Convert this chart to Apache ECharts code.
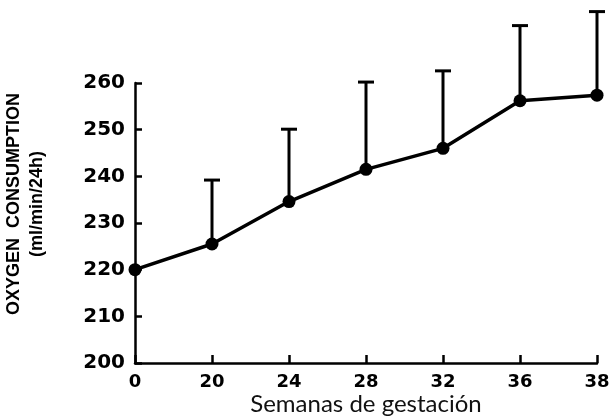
<!DOCTYPE html>
<html>
<head>
<meta charset="utf-8">
<script src="https://cdn.jsdelivr.net/npm/echarts@6/dist/echarts.min.js"></script>
<style>html,body{margin:0;padding:0;background:#fff;}#chart{width:612px;height:416px;}</style>
</head>
<body>
<div id="chart"></div>
<script>
const categories = ['0', '20', '24', '28', '32', '36', '38'];
const meanValues = [220, 225.5, 234.6, 241.5, 246.0, 256.2, 257.4];
const upperValues = [null, 239.2, 250.1, 260.2, 262.6, 272.3, 275.3];
const yAxisTitle = 'OXYGEN  CONSUMPTION\n(ml/min/24h)';
const xAxisTitle = 'Semanas de gestación';

const errorData = [];
categories.forEach(function (c, i) {
  if (upperValues[i] != null) errorData.push([i, meanValues[i], upperValues[i]]);
});

const chart = echarts.init(document.getElementById('chart'));
chart.setOption({
  animation: false,
  backgroundColor: '#fff',
  grid: { left: 135, right: 15, top: 83, bottom: 53, containLabel: false, outerBoundsMode: 'none' },
  xAxis: {
    type: 'category',
    data: categories,
    boundaryGap: false,
    name: xAxisTitle,
    nameLocation: 'middle',
    nameGap: 29,
    nameMoveOverlap: false,
    nameTextStyle: { fontFamily: 'Lato', fontSize: 24, color: '#111' },
    axisLine: { lineStyle: { color: '#000', width: 2.5 } },
    axisTick: { inside: true, length: 8, lineStyle: { color: '#000', width: 2.5 }, alignWithLabel: true },
    axisLabel: { fontFamily: 'DejaVu Sans', fontWeight: 'bold', fontSize: 18, color: '#000', margin: 10 },
    splitLine: { show: false }
  },
  yAxis: {
    type: 'value',
    min: 200, max: 260, interval: 10,
    axisLine: { show: true, lineStyle: { color: '#000', width: 2.5 } },
    axisTick: { show: true, inside: true, length: 7, lineStyle: { color: '#000', width: 2.5 } },
    axisLabel: { fontFamily: 'DejaVu Sans', fontWeight: 'bold', fontSize: 20, color: '#000', margin: 10 },
    splitLine: { show: false }
  },
  graphic: [{
    type: 'text',
    x: 26, y: 204,
    rotation: Math.PI / 2,
    style: {
      text: yAxisTitle,
      fontFamily: 'Liberation Sans',
      fontWeight: 'bold',
      fontSize: 18,
      lineHeight: 23,
      fill: '#000',
      align: 'center',
      verticalAlign: 'middle'
    }
  }],
  series: [{
    type: 'custom',
    clip: false,
    z: 1,
    data: errorData,
    renderItem: function (params, api) {
      const idx = api.value(0);
      const lo = api.coord([idx, api.value(1)]);
      const hi = api.coord([idx, api.value(2)]);
      return {
        type: 'group',
        children: [
          { type: 'line', shape: { x1: lo[0], y1: lo[1], x2: hi[0], y2: hi[1] }, style: { stroke: '#000', lineWidth: 3 } },
          { type: 'line', shape: { x1: hi[0] - 8, y1: hi[1], x2: hi[0] + 8, y2: hi[1] }, style: { stroke: '#000', lineWidth: 3 } }
        ]
      };
    }
  }, {
    type: 'line',
    z: 3,
    data: meanValues,
    clip: false,
    symbol: 'circle',
    symbolSize: 13,
    itemStyle: { color: '#000' },
    lineStyle: { color: '#000', width: 3.5 }
  }]
});
</script>
</body>
</html>
